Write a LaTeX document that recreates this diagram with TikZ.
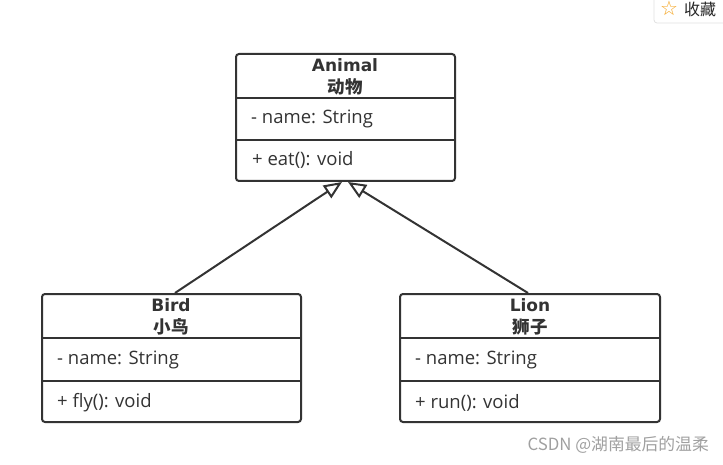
\documentclass[tikz,border=0pt]{standalone}
\usepackage{fontspec}
\setmainfont{Open Sans}
\newfontfamily\cjk{Noto Sans CJK SC}
\newfontfamily\symf{DejaVu Sans}
\usetikzlibrary{arrows.meta}
\definecolor{ln}{HTML}{333333}
\definecolor{wm}{HTML}{A0A0A0}
\definecolor{star}{HTML}{F5A623}
\begin{document}
\begin{tikzpicture}[x=1pt,y=-1pt,
  box/.style={draw=ln,line width=2pt,rounded corners=3pt,fill=white,inner sep=0pt},
  div/.style={draw=ln,line width=1.8pt},
  ttl/.style={font=\fontsize{17}{19}\selectfont\symf\bfseries,text=ln,inner sep=0pt},
  cttl/.style={font=\fontsize{17.5}{19}\selectfont\cjk\bfseries,text=ln,inner sep=0pt},
  mem/.style={font=\fontsize{18.5}{20}\selectfont,text=ln,anchor=west,inner sep=0pt},
  inh/.style={draw=ln,line width=2pt,-{Triangle[open,length=18pt,width=15pt,fill=white,line width=2pt]}}]
\useasboundingbox (0,0) rectangle (723,465);
% top-right button
\draw[draw=black!12,line width=0.8pt,rounded corners=3pt,fill=white] (654,-5) rectangle (730,23);
\node[font=\fontsize{20}{20}\selectfont\symf,text=star,inner sep=0pt] (staricon) at (669,8) {☆};
\node[font=\fontsize{16}{17}\selectfont\cjk,text=black!85,anchor=west,inner sep=0pt] (shoucang) at (684,9) {收藏};
% Animal
\node[box,minimum width=219pt,minimum height=127pt] (animal) at (345.5,117.5) {};
\draw[div] (236,98) -- (455,98);
\draw[div] (236,140) -- (455,140);
\node[ttl] (animalT) at (345,65) {Animal};
\node[cttl] (animalC) at (345,87) {动物};
\node[mem] (animalA) at (251,118.5) {- name: String};
\node[mem] (animalM) at (252,160) {+ eat(): void};
% Bird
\node[box,minimum width=259pt,minimum height=128pt] (bird) at (171.5,358) {};
\draw[div] (42,338) -- (301,338);
\draw[div] (42,381) -- (301,381);
\node[ttl] (birdT) at (171,305) {Bird};
\node[cttl] (birdC) at (171,327) {小鸟};
\node[mem] (birdA) at (57,360) {- name: String};
\node[mem] (birdM) at (57,403) {+ fly(): void};
% Lion
\node[box,minimum width=260pt,minimum height=128pt] (lion) at (530,358) {};
\draw[div] (400,338) -- (660,338);
\draw[div] (400,381) -- (660,381);
\node[ttl] (lionT) at (530,305) {Lion};
\node[cttl] (lionC) at (530,327) {狮子};
\node[mem] (lionA) at (415,360) {- name: String};
\node[mem] (lionM) at (415,403) {+ run(): void};
% inheritance
\coordinate (bs) at (175,293);
\coordinate (ls) at (528,293);
\coordinate (at1) at (342,182);
\coordinate (at2) at (348,182);
\draw[inh] (bs) -- (at1);
\draw[inh] (ls) -- (at2);
% watermark
\node[font=\fontsize{16.8}{17}\selectfont\cjk,text=wm,anchor=east,inner sep=0pt] (wmark) at (709,445) {CSDN @湖南最后的温柔};
\end{tikzpicture}
\end{document}
